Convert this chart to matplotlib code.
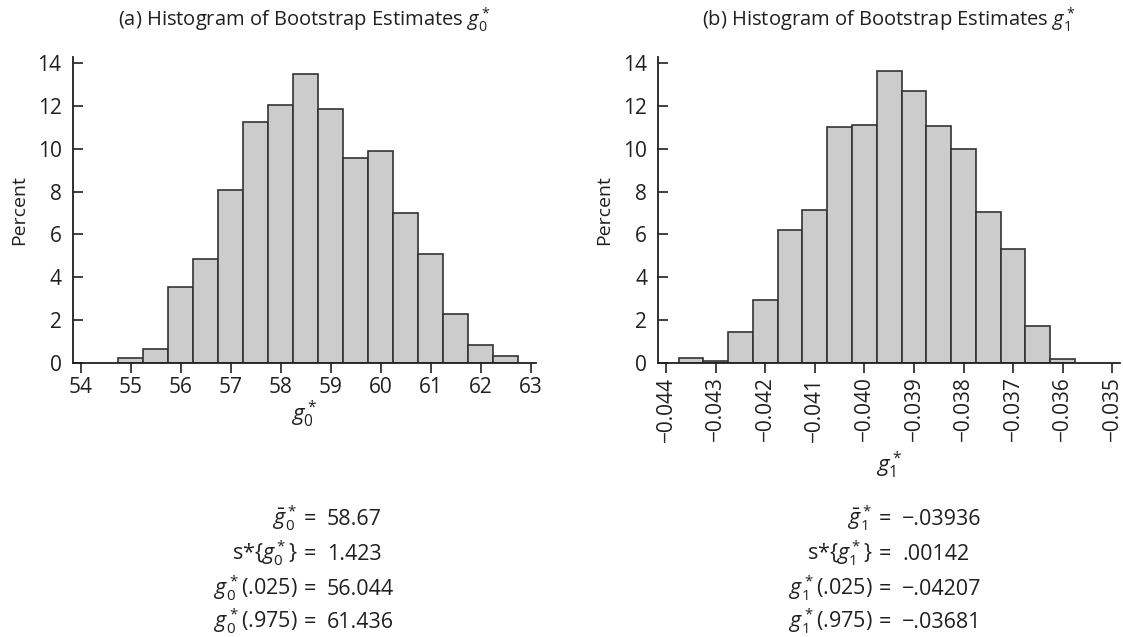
import matplotlib
matplotlib.use("Agg")
import matplotlib.pyplot as plt
import numpy as np
from matplotlib.ticker import FuncFormatter

plt.rcParams['font.family'] = ['Open Sans', 'DejaVu Sans']
plt.rcParams['mathtext.fontset'] = 'custom'
plt.rcParams['mathtext.rm'] = 'Open Sans'
plt.rcParams['mathtext.it'] = 'Open Sans:italic'
plt.rcParams['mathtext.bf'] = 'Open Sans:bold'

# bootstrap histogram of g0*
g0_edges = [54.75, 55.25, 55.75, 56.25, 56.75, 57.25, 57.75, 58.25, 58.75,
            59.25, 59.75, 60.25, 60.75, 61.25, 61.75, 62.25, 62.75]
g0_pct = [0.23, 0.64, 3.56, 4.86, 8.06, 11.27, 12.05, 13.48,
          11.86, 9.55, 9.90, 6.99, 5.08, 2.26, 0.81, 0.30]
g0_ticks = [54, 55, 56, 57, 58, 59, 60, 61, 62, 63]

# bootstrap histogram of g1*
g1_edges = [-0.04375, -0.04325, -0.04275, -0.04225, -0.04175, -0.04125,
            -0.04075, -0.04025, -0.03975, -0.03925, -0.03875, -0.03825,
            -0.03775, -0.03725, -0.03675, -0.03625, -0.03575]
g1_pct = [0.22, 0.08, 1.42, 2.94, 6.21, 7.12, 11.03, 11.11,
          13.64, 12.72, 11.06, 10.00, 7.07, 5.31, 1.73, 0.16]
g1_ticks = [-0.044, -0.043, -0.042, -0.041, -0.040,
            -0.039, -0.038, -0.037, -0.036, -0.035]

y_ticks = [0, 2, 4, 6, 8, 10, 12, 14]

# summary statistics printed under each panel
g0_stat_names = [r'$\bar{g}_0^*$', r's*$\{g_0^*\}$', r'$g_0^*$(.025)', r'$g_0^*$(.975)']
g0_stat_values = ['58.67', '1.423', '56.044', '61.436']
g1_stat_names = [r'$\bar{g}_1^*$', r's*$\{g_1^*\}$', r'$g_1^*$(.025)', r'$g_1^*$(.975)']
g1_stat_values = ['\u2212.03936', '.00142', '\u2212.04207', '\u2212.03681']

ink = '#231f20'
fs = 15

fig = plt.figure(figsize=(11.23, 6.37), dpi=100)
ax1 = fig.add_axes([0.0647, 0.4306, 0.4123, 0.4804])
ax2 = fig.add_axes([0.5862, 0.4306, 0.4112, 0.4804])


def draw(ax, edges, pct, ticks, xlim, xlabel, title, xpad):
    edges = np.array(edges)
    ax.bar(edges[:-1], pct, width=np.diff(edges), align='edge',
           color='#cccccc', edgecolor='#333333', linewidth=1.2)
    ax.set_xlim(*xlim)
    ax.set_ylim(0, 14.31)
    ax.set_xticks(ticks)
    ax.set_yticks(y_ticks)
    for s in ['top', 'right']:
        ax.spines[s].set_visible(False)
    for s in ['left', 'bottom']:
        ax.spines[s].set_color(ink)
        ax.spines[s].set_linewidth(1.3)
    ax.tick_params(axis='y', direction='in', length=7, width=1.2, color=ink,
                   labelsize=fs, labelcolor=ink, pad=8)
    ax.tick_params(axis='x', direction='out', length=7, width=1.2, color=ink,
                   labelsize=fs, labelcolor=ink, pad=3)
    ax.set_ylabel('Percent', fontsize=fs - 1, color=ink, labelpad=7)
    ax.set_xlabel(xlabel, fontsize=fs + 1, color=ink, labelpad=xpad)
    ax.set_title(title, fontsize=fs - 0.5, color=ink, pad=22)


draw(ax1, g0_edges, g0_pct, g0_ticks, (53.84, 63.1), r'$g_0^*$',
     r'(a) Histogram of Bootstrap Estimates $g_0^*$', 1)
draw(ax2, g1_edges, g1_pct, g1_ticks, (-0.04416, -0.03484), r'$g_1^*$',
     r'(b) Histogram of Bootstrap Estimates $g_1^*$', 6)

ax2.xaxis.set_major_formatter(FuncFormatter(lambda v, p: f'{v:.3f}'.replace('-', '\u2212')))
for lab in ax2.get_xticklabels():
    lab.set_rotation(90)

# stats blocks: name right-aligned, then "=", then value
line_y = [525, 560, 595, 628]
for names, vals, xr in [(g0_stat_names, g0_stat_values, 298),
                        (g1_stat_names, g1_stat_values, 873)]:
    for name, val, yb in zip(names, vals, line_y):
        y = 1 - yb / 637
        fig.text(xr / 1123, y, name, ha='right', va='baseline', fontsize=fs + 0.5, color=ink)
        fig.text((xr + 6) / 1123, y, '=', ha='left', va='baseline', fontsize=fs + 0.5, color=ink)
        fig.text((xr + 29) / 1123, y, val, ha='left', va='baseline', fontsize=fs + 0.5, color=ink)

fig.savefig('out.png', dpi=100)
